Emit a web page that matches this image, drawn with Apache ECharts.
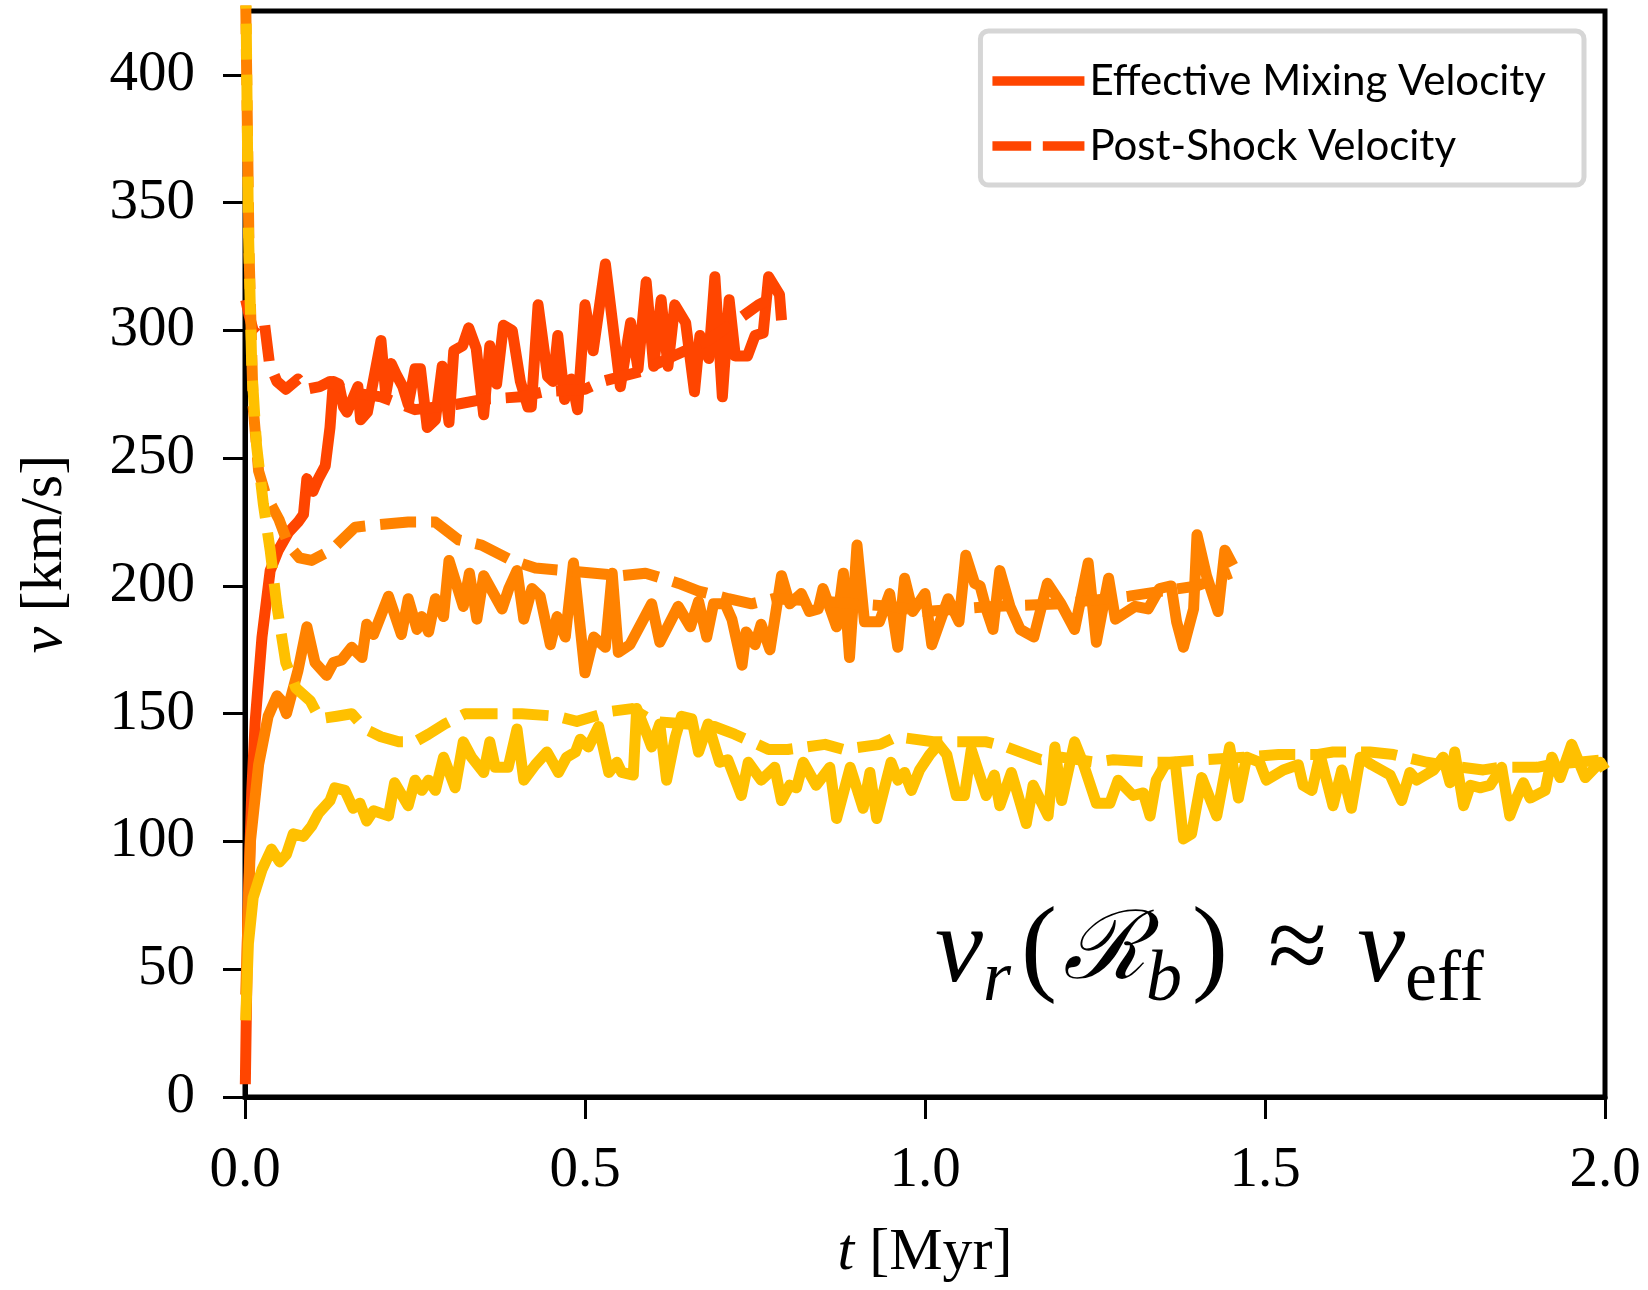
<!DOCTYPE html>
<html>
<head>
<meta charset="utf-8">
<script src="https://cdn.jsdelivr.net/npm/echarts@6/dist/echarts.min.js"></script>
<style>
  html, body { margin: 0; padding: 0; background: #fff; }
  #chart { width: 1648px; height: 1290px; }
</style>
</head>
<body>
<div id="chart"></div>
<script>
// [t (Myr), v (km/s)]
const mixRed = [[0.0005,5],[0.004,70],[0.01,120],[0.015,147],[0.025,180],[0.037,206],[0.049,214],[0.064,221],[0.078,225],[0.086,228],[0.091,242],[0.1,237],[0.108,242],[0.118,247],[0.125,262],[0.13,280],[0.138,279],[0.145,270],[0.15,268],[0.158,273],[0.166,278],[0.17,265],[0.18,268],[0.2,296],[0.207,275],[0.215,287],[0.222,283],[0.232,278],[0.24,271],[0.25,285],[0.258,285],[0.268,262],[0.28,265],[0.29,286],[0.3,264],[0.307,292],[0.32,294],[0.329,301],[0.34,293],[0.351,267],[0.36,294],[0.37,279],[0.38,302],[0.393,300],[0.405,280],[0.416,270],[0.421,270],[0.431,310],[0.445,282],[0.453,280],[0.46,298],[0.47,273],[0.48,281],[0.489,269],[0.5,310],[0.512,292],[0.53,326],[0.552,278],[0.567,303],[0.578,285],[0.59,319],[0.601,286],[0.612,312],[0.622,286],[0.632,310],[0.648,303],[0.661,276],[0.669,298],[0.682,289],[0.691,321],[0.702,274],[0.712,312],[0.721,290],[0.739,290],[0.75,298],[0.762,299],[0.77,321],[0.786,314],[0.789,304]];
const shockRed = [[0.001,312],[0.006,306],[0.012,300],[0.02,298],[0.029,302],[0.036,287],[0.047,280],[0.06,277],[0.078,281],[0.09,277],[0.11,278],[0.125,280],[0.15,276],[0.2,274],[0.25,269],[0.31,271],[0.35,273],[0.406,274],[0.44,276],[0.5,277],[0.525,280],[0.583,284],[0.63,290],[0.68,296],[0.729,305],[0.755,310],[0.77,312]];

const mixOrange = [[0.001,40],[0.008,100],[0.02,130],[0.034,149],[0.047,157],[0.054,155],[0.061,150],[0.078,167],[0.091,184],[0.103,170],[0.12,165],[0.13,170],[0.142,171],[0.157,176],[0.172,172],[0.179,185],[0.189,181],[0.211,196],[0.23,181],[0.24,195],[0.253,183],[0.26,188],[0.27,182],[0.28,195],[0.292,188],[0.3,210],[0.321,192],[0.33,205],[0.341,187],[0.351,204],[0.378,191],[0.388,199],[0.4,206],[0.41,187],[0.422,199],[0.434,196],[0.449,177],[0.459,188],[0.471,180],[0.483,209],[0.5,166],[0.513,180],[0.53,176],[0.54,205],[0.549,174],[0.566,177],[0.598,193],[0.61,178],[0.637,192],[0.655,184],[0.667,194],[0.679,180],[0.689,193],[0.706,193],[0.716,187],[0.731,169],[0.737,182],[0.75,177],[0.759,185],[0.772,175],[0.789,204],[0.801,193],[0.818,197],[0.83,190],[0.843,191],[0.85,199],[0.87,184],[0.88,205],[0.889,172],[0.9,216],[0.911,186],[0.933,186],[0.948,197],[0.96,176],[0.97,203],[0.982,190],[1.0,197],[1.01,177],[1.034,195],[1.05,186],[1.06,212],[1.073,201],[1.081,200],[1.09,191],[1.1,183],[1.11,206],[1.125,192],[1.14,183],[1.16,180],[1.18,201],[1.2,193],[1.22,183],[1.24,209],[1.252,178],[1.27,203],[1.28,187],[1.309,192],[1.328,191],[1.345,199],[1.362,200],[1.37,186],[1.38,176],[1.395,191],[1.4,220],[1.414,204],[1.431,190],[1.441,214],[1.453,208]];
const shockOrange = [[0.001,430],[0.006,330],[0.012,270],[0.02,245],[0.03,236],[0.04,231],[0.05,226],[0.064,216],[0.08,211],[0.098,210],[0.127,214],[0.162,223],[0.196,224],[0.24,225],[0.28,225],[0.314,218],[0.348,216],[0.392,210],[0.427,207],[0.471,206],[0.554,204],[0.589,205],[0.638,201],[0.667,198],[0.711,195],[0.745,193],[0.777,195],[0.85,194],[0.95,192],[1.0,190],[1.1,192],[1.2,193],[1.3,196],[1.4,200],[1.45,205]];

const mixYellow = [[0.001,30],[0.005,60],[0.012,78],[0.025,89],[0.039,97],[0.051,92],[0.061,95],[0.071,103],[0.086,102],[0.098,106],[0.108,111],[0.125,116],[0.132,121],[0.147,120],[0.159,113],[0.169,115],[0.179,108],[0.189,112],[0.211,110],[0.22,123],[0.24,114],[0.25,124],[0.26,120],[0.27,124],[0.28,120],[0.292,133],[0.309,121],[0.321,139],[0.333,133],[0.351,127],[0.36,139],[0.368,129],[0.387,129],[0.4,144],[0.41,124],[0.427,130],[0.444,135],[0.461,127],[0.473,133],[0.486,135],[0.493,140],[0.505,137],[0.52,145],[0.535,127],[0.547,131],[0.554,127],[0.571,126],[0.576,152],[0.591,142],[0.598,137],[0.61,146],[0.62,124],[0.633,141],[0.642,149],[0.657,148],[0.667,135],[0.681,146],[0.698,131],[0.71,132],[0.73,118],[0.74,131],[0.759,124],[0.779,129],[0.789,116],[0.801,122],[0.811,121],[0.821,131],[0.84,122],[0.86,129],[0.87,109],[0.89,129],[0.909,113],[0.919,127],[0.929,109],[0.95,131],[0.96,124],[0.97,127],[0.98,120],[0.992,128],[1.007,134],[1.02,138],[1.032,134],[1.046,118],[1.058,118],[1.068,136],[1.09,118],[1.102,126],[1.11,114],[1.127,127],[1.149,107],[1.159,122],[1.181,110],[1.191,137],[1.201,116],[1.22,139],[1.232,131],[1.252,115],[1.272,115],[1.284,124],[1.306,118],[1.321,119],[1.331,110],[1.34,124],[1.353,130],[1.368,131],[1.38,101],[1.392,103],[1.407,125],[1.429,110],[1.448,137],[1.461,117],[1.473,133],[1.492,131],[1.502,124],[1.527,128],[1.549,130],[1.556,122],[1.569,120],[1.581,134],[1.6,114],[1.613,128],[1.627,113],[1.64,133],[1.657,130],[1.684,126],[1.701,116],[1.713,127],[1.723,124],[1.748,128],[1.762,133],[1.772,123],[1.779,135],[1.792,114],[1.802,122],[1.816,121],[1.831,122],[1.848,129],[1.86,110],[1.87,117],[1.88,123],[1.89,117],[1.912,120],[1.922,133],[1.934,125],[1.951,138],[1.971,125],[1.993,131],[2.0,128]];
const shockYellow = [[0.001,440],[0.005,340],[0.01,285],[0.017,255],[0.027,232],[0.037,214],[0.047,192],[0.06,170],[0.075,160],[0.096,155],[0.11,148],[0.135,149],[0.157,150],[0.177,144],[0.2,141],[0.226,139],[0.25,139],[0.27,142],[0.294,146],[0.324,150],[0.378,150],[0.407,150],[0.459,149],[0.488,147],[0.54,151],[0.569,152],[0.6,147],[0.65,146],[0.69,145],[0.72,142],[0.77,136],[0.798,136],[0.853,138],[0.88,136],[0.934,138],[0.958,141],[1.012,139],[1.04,139],[1.09,139],[1.12,137],[1.17,132],[1.2,133],[1.25,131],[1.277,132],[1.336,131],[1.36,131],[1.414,132],[1.47,133],[1.52,134],[1.576,134],[1.6,135],[1.654,135],[1.689,134],[1.738,131],[1.762,130],[1.821,128],[1.845,129],[1.9,129],[1.92,130],[2.0,132]];

const xTicks = [0, 0.5, 1.0, 1.5, 2.0];
const yTicks = [0, 50, 100, 150, 200, 250, 300, 350, 400];

const RED = '#ff4500', ORANGE = '#ff8200', YELLOW = '#ffc000';
const LW = 11;
const DASH = [36, 15];
const SERIF = '"Liberation Serif", "DejaVu Serif", serif';

function line(name, data, color, dashed) {
    return {
        name: name,
        type: 'line',
        data: data,
        symbol: 'none',
        clip: true,
        lineStyle: {
            color: color,
            width: LW,
            type: dashed ? DASH : 'solid',
            join: 'round',
            cap: 'butt'
        },
        itemStyle: { color: color }
    };
}

// 公式里的文字样式
function mathStyle(size, italic, extra) {
    return Object.assign({
        fontFamily: SERIF,
        fontStyle: italic ? 'italic' : 'normal',
        fontWeight: 'normal',
        fontSize: size,
        lineHeight: 128,
        verticalAlign: 'middle',
        color: '#000'
    }, extra || {});
}

const chart = echarts.init(document.getElementById('chart'));

const options = {
    animation: false,
    backgroundColor: '#fff',
    grid: {
        left: 245,
        right: 43,
        top: 11,
        bottom: 193,
        show: true,
        borderColor: '#000',
        borderWidth: 5,
        backgroundColor: 'transparent'
    },
    legend: {
        data: [
            { name: 'Effective Mixing Velocity', icon: 'path://M0,0H95V10H0Z' },
            { name: 'Post-Shock Velocity', icon: 'path://M0,0H40V10H0Z M52,0H95V10H52Z' }
        ],
        orient: 'vertical',
        right: 64,
        top: 31,
        itemWidth: 92,
        itemHeight: 10,
        itemGap: 19,
        padding: [27, 38, 16, 12],
        borderColor: '#d6d6d6',
        borderWidth: 5,
        borderRadius: 8,
        backgroundColor: '#fff',
        textStyle: {
            fontFamily: 'Lato',
            fontSize: 42,
            lineHeight: 46,
            color: '#000'
        }
    },
    title: {
        text: '{v|v}{s|r}{p|(}{R|ℛ}{s|b}{p|)}{a|≈}{v|v}{e|eff}',
        left: 930,
        top: 884,
        textStyle: {
            fontWeight: 'normal',
            rich: {
                v: mathStyle(108, true),
                p: mathStyle(108, false, { padding: [0, 6, 0, 10] }),
                a: mathStyle(108, false, { padding: [0, 30, 0, 34] }),
                R: mathStyle(95, true, { fontFamily: '"DejaVu Serif", serif' }),
                s: mathStyle(72, true, { lineHeight: 70, verticalAlign: 'bottom' }),
                e: mathStyle(72, false, { lineHeight: 66, verticalAlign: 'bottom' })
            }
        }
    },
    xAxis: {
        type: 'value',
        min: 0,
        max: 2,
        interval: 0.5,
        name: '{i|t} [Myr]',
        nameLocation: 'middle',
        nameGap: 126,
        nameTextStyle: {
            fontFamily: SERIF,
            fontSize: 60,
            color: '#000',
            rich: { i: { fontFamily: SERIF, fontStyle: 'italic', fontSize: 60, color: '#000' } }
        },
        axisLine: { show: true, lineStyle: { color: '#000', width: 5 } },
        axisTick: { show: true, inside: false, length: 22, lineStyle: { color: '#000', width: 3 }, customValues: xTicks },
        axisLabel: {
            customValues: xTicks,
            formatter: v => v.toFixed(1),
            fontFamily: SERIF,
            fontSize: 57,
            color: '#000',
            margin: 46
        },
        splitLine: { show: false }
    },
    yAxis: {
        type: 'value',
        min: 0,
        max: 425,
        interval: 50,
        name: '{i|v} [km/s]',
        nameLocation: 'middle',
        nameRotate: 90,
        nameGap: 170,
        nameTextStyle: {
            fontFamily: SERIF,
            fontSize: 60,
            color: '#000',
            rich: { i: { fontFamily: SERIF, fontStyle: 'italic', fontSize: 60, color: '#000' } }
        },
        axisLine: { show: true, lineStyle: { color: '#000', width: 5 } },
        axisTick: { show: true, inside: false, length: 22, lineStyle: { color: '#000', width: 3 }, customValues: yTicks },
        axisLabel: {
            customValues: yTicks,
            fontFamily: SERIF,
            fontSize: 57,
            color: '#000',
            margin: 50
        },
        splitLine: { show: false }
    },
    series: [
        line('Effective Mixing Velocity', mixRed, RED, false),
        line('Post-Shock Velocity', shockRed, RED, true),
        line('mix2', mixOrange, ORANGE, false),
        line('shock2', shockOrange, ORANGE, true),
        line('mix3', mixYellow, YELLOW, false),
        line('shock3', shockYellow, YELLOW, true)
    ]
};

chart.setOption(options);
</script>
</body>
</html>
